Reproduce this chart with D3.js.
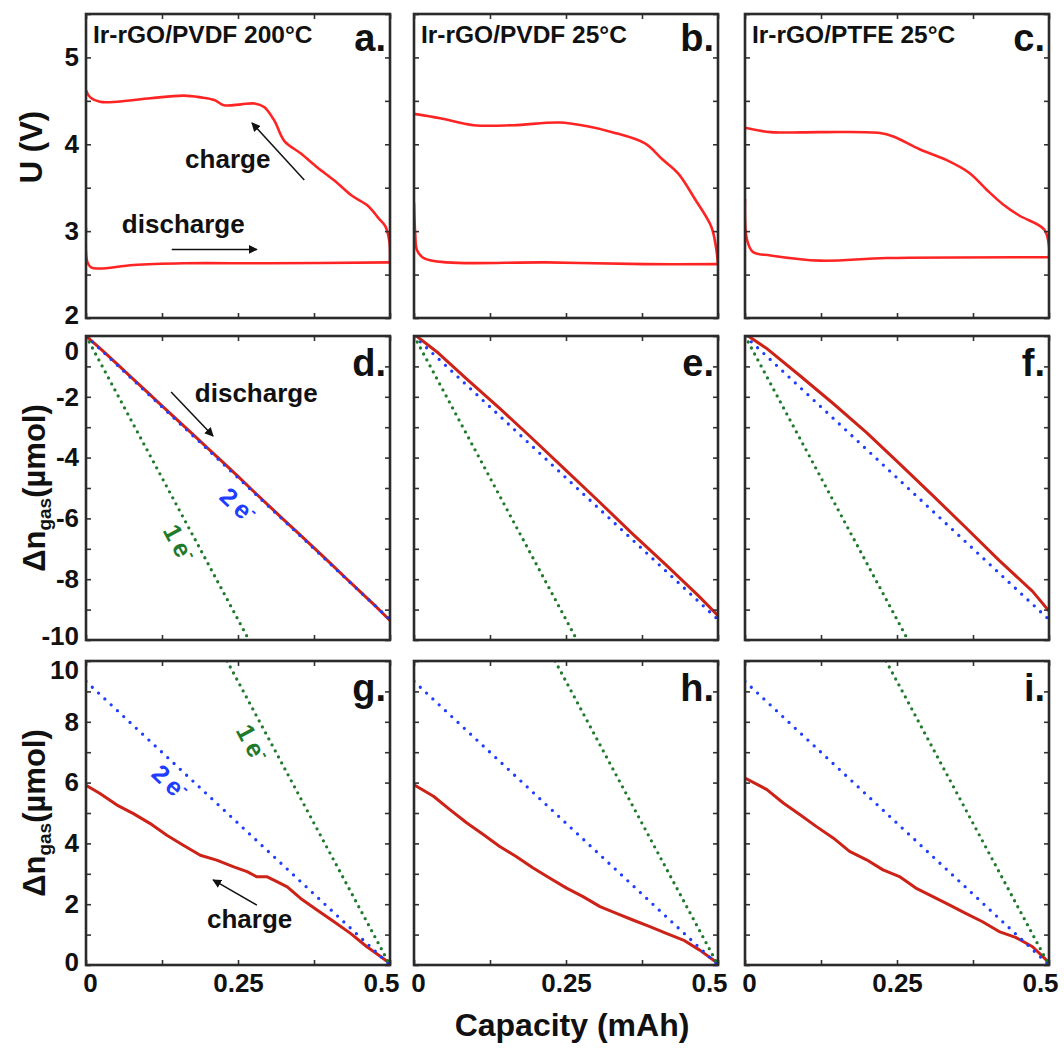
<!DOCTYPE html>
<html>
<head>
<meta charset="utf-8">
<script src="https://cdn.jsdelivr.net/npm/d3@7"></script>
<style>
body { margin: 0; background: #fff; }
text { font-family: "Liberation Sans", Arial, sans-serif; font-weight: bold; }
</style>
</head>
<body>
<script>
// ---- data (capacity in mAh, U in V, delta n in umol) ----
var capTicks = [0, 0.125, 0.25, 0.375, 0.5];
var capLabels = [0, 0.25, 0.5];
var uTicks = [2, 2.5, 3, 3.5, 4, 4.5, 5, 5.5];
var uLabels = [2, 3, 4, 5];
var dnDisTicks = [-10, -9, -8, -7, -6, -5, -4, -3, -2, -1, 0];
var dnDisLabels = [-10, -8, -6, -4, -2, 0];
var dnChTicks = [0, 1, 2, 3, 4, 5, 6, 7, 8, 9, 10];
var dnChLabels = [0, 2, 4, 6, 8, 10];

// panel a-c: voltage profiles
var aCharge = [[0,4.62],[0.007,4.54],[0.023,4.49],[0.051,4.49],[0.106,4.53],[0.161,4.56],[0.189,4.54],[0.211,4.51],[0.227,4.45],[0.255,4.46],[0.277,4.47],[0.293,4.43],[0.31,4.27],[0.326,4.04],[0.354,3.89],[0.381,3.73],[0.409,3.58],[0.437,3.41],[0.464,3.29],[0.481,3.15],[0.492,3.06],[0.499,2.88],[0.5,2.65]];
var aDischarge = [[0,3.04],[0.002,2.65],[0.009,2.58],[0.023,2.57],[0.078,2.61],[0.161,2.63],[0.299,2.63],[0.5,2.64]];
var bCharge = [[0,4.35],[0.043,4.3],[0.098,4.22],[0.163,4.22],[0.239,4.25],[0.283,4.21],[0.326,4.14],[0.38,4.01],[0.408,3.83],[0.435,3.66],[0.462,3.37],[0.489,3.05],[0.497,2.8],[0.5,2.62]];
var bDischarge = [[0,3.33],[0.002,2.97],[0.005,2.78],[0.016,2.69],[0.054,2.64],[0.217,2.64],[0.38,2.62],[0.5,2.62]];
var cCharge = [[0,4.19],[0.042,4.14],[0.124,4.14],[0.222,4.13],[0.244,4.09],[0.288,3.94],[0.331,3.82],[0.369,3.67],[0.397,3.48],[0.424,3.31],[0.451,3.18],[0.492,3.02],[0.5,2.83],[0.5,2.7]];
var cDischarge = [[0,3.37],[0.003,2.91],[0.013,2.76],[0.042,2.72],[0.124,2.66],[0.233,2.69],[0.5,2.7]];

// panel d-f: gas consumed on discharge
var dMeas = [[0,0],[0.025,-0.44],[0.05,-0.9],[0.075,-1.37],[0.1,-1.83],[0.125,-2.3],[0.15,-2.76],[0.175,-3.22],[0.2,-3.69],[0.225,-4.15],[0.25,-4.62],[0.275,-5.1],[0.3,-5.57],[0.325,-6.04],[0.35,-6.5],[0.375,-6.97],[0.4,-7.44],[0.425,-7.92],[0.45,-8.39],[0.475,-8.86],[0.5,-9.36]];
var eMeas = [[0.004,0],[0.04,-0.56],[0.086,-1.4],[0.141,-2.38],[0.195,-3.38],[0.25,-4.42],[0.305,-5.46],[0.359,-6.5],[0.414,-7.52],[0.468,-8.55],[0.5,-9.2]];
var fMeas = [[0.005,0],[0.035,-0.4],[0.09,-1.3],[0.145,-2.22],[0.2,-3.18],[0.254,-4.2],[0.309,-5.25],[0.363,-6.3],[0.418,-7.38],[0.473,-8.4],[0.5,-9.05]];

// panel g-i: gas evolved on charge
var gMeas = [[0,5.91],[0.023,5.64],[0.051,5.26],[0.078,4.98],[0.105,4.66],[0.133,4.27],[0.16,3.94],[0.188,3.61],[0.215,3.45],[0.243,3.23],[0.265,3.07],[0.281,2.9],[0.298,2.9],[0.314,2.74],[0.331,2.57],[0.353,2.19],[0.38,1.81],[0.408,1.42],[0.435,1.04],[0.462,0.6],[0.485,0.27],[0.5,0.05]];
var hMeas = [[0,5.93],[0.032,5.55],[0.059,5.11],[0.087,4.67],[0.114,4.29],[0.141,3.9],[0.168,3.57],[0.196,3.19],[0.223,2.86],[0.251,2.53],[0.278,2.25],[0.306,1.92],[0.333,1.7],[0.36,1.48],[0.388,1.26],[0.415,1.04],[0.443,0.82],[0.47,0.49],[0.5,0.05]];
var iMeas = [[0,6.15],[0.036,5.77],[0.063,5.33],[0.09,4.95],[0.117,4.56],[0.145,4.18],[0.172,3.74],[0.2,3.46],[0.227,3.13],[0.243,3.0],[0.254,2.91],[0.281,2.53],[0.309,2.25],[0.336,1.98],[0.363,1.7],[0.39,1.43],[0.418,1.1],[0.445,0.91],[0.473,0.6],[0.5,0.08]];

// theoretical 1e- / 2e- lines
var dis2e = [[0,0],[0.5,-9.33]];
var dis1e = [[0,0],[0.268,-10]];
var ch2e = [[0,9.33],[0.5,0]];
var ch1e = [[0.232,10],[0.5,0]];

var titles = ["Ir-rGO/PVDF 200°C", "Ir-rGO/PVDF 25°C", "Ir-rGO/PTFE 25°C"];
var letters = ["a.", "b.", "c.", "d.", "e.", "f.", "g.", "h.", "i."];

var svg = d3.select("body").append("svg")
            .attr("width", 1064)
            .attr("height", 1048);

var colLeft = [86, 414, 745];
var rowTop = [14, 336, 661];
var pw = 304, ph = 304;
var RED1 = "#ff2424", RED2 = "#cc2218", BLUE = "#1f3dff", GREEN = "#1f7a2c";

var rows = [
  { domain: [2, 5.5], ticks: uTicks, labels: uLabels, topNudge: 0, botNudge: -3 },
  { domain: [-10, 0], ticks: dnDisTicks, labels: dnDisLabels, topNudge: 15, botNudge: -4 },
  { domain: [0, 10], ticks: dnChTicks, labels: dnChLabels, topNudge: 9, botNudge: -3 }
];

var panels = [
  { r: 0, c: 0, meas: [aCharge, aDischarge] },
  { r: 0, c: 1, meas: [bCharge, bDischarge] },
  { r: 0, c: 2, meas: [cCharge, cDischarge] },
  { r: 1, c: 0, meas: [dMeas], theo: [dis2e, dis1e] },
  { r: 1, c: 1, meas: [eMeas], theo: [dis2e, dis1e] },
  { r: 1, c: 2, meas: [fMeas], theo: [dis2e, dis1e] },
  { r: 2, c: 0, meas: [gMeas], theo: [ch2e, ch1e] },
  { r: 2, c: 1, meas: [hMeas], theo: [ch2e, ch1e] },
  { r: 2, c: 2, meas: [iMeas], theo: [ch2e, ch1e] }
];

var defs = svg.append("defs");
defs.append("marker")
    .attr("id", "arr")
    .attr("viewBox", "0 0 10 10")
    .attr("refX", 9).attr("refY", 5)
    .attr("markerWidth", 9).attr("markerHeight", 9)
    .attr("markerUnits", "userSpaceOnUse")
    .attr("orient", "auto")
  .append("path")
    .attr("d", "M0,0 L10,5 L0,10 z")
    .attr("fill", "#111");

var scales = [];

panels.forEach(function (p, i) {
  var row = rows[p.r];
  var g = svg.append("g")
             .attr("transform", "translate(" + colLeft[p.c] + "," + rowTop[p.r] + ")");
  var x = d3.scaleLinear().domain([0, 0.5]).range([0, pw]);
  var y = d3.scaleLinear().domain(row.domain).range([ph, 0]);
  scales.push({ g: g, x: x, y: y });

  defs.append("clipPath").attr("id", "clip" + i)
      .append("rect").attr("width", pw).attr("height", ph);

  var line = d3.line().x(function (d) { return x(d[0]); }).y(function (d) { return y(d[1]); });
  var plot = g.append("g").attr("clip-path", "url(#clip" + i + ")");

  // measured curves
  p.meas.forEach(function (m) {
    plot.append("path")
        .attr("d", line.curve(p.r === 0 ? d3.curveCatmullRom.alpha(0.5) : d3.curveLinear)(m))
        .attr("fill", "none")
        .attr("stroke", p.r === 0 ? RED1 : RED2)
        .attr("stroke-width", p.r === 0 ? 2.6 : 3)
        .attr("stroke-linejoin", "round");
  });

  // theoretical lines (dotted)
  if (p.theo) {
    line.curve(d3.curveLinear);
    plot.append("path").attr("d", line(p.theo[0]))
        .attr("fill", "none").attr("stroke", BLUE).attr("stroke-width", 3.3)
        .attr("stroke-linecap", "round").attr("stroke-dasharray", "0,8.6");
    plot.append("path").attr("d", line(p.theo[1]))
        .attr("fill", "none").attr("stroke", GREEN).attr("stroke-width", 3.3)
        .attr("stroke-linecap", "round").attr("stroke-dasharray", "0,6.8");
  }

  // axes with inward ticks
  var left = g.append("g").call(d3.axisLeft(y).tickValues(row.ticks).tickSize(-5).tickPadding(7)
      .tickFormat(function (d) { return p.c === 0 && row.labels.indexOf(d) >= 0 ? String(d) : ""; }));
  left.selectAll("text").attr("y", function (d) {
    if (d === row.domain[1]) return row.topNudge;
    if (d === row.domain[0]) return row.botNudge;
    return 0;
  });
  g.append("g").attr("transform", "translate(" + pw + ",0)")
   .call(d3.axisRight(y).tickValues(row.ticks).tickSize(-5).tickFormat(""));
  g.append("g").call(d3.axisTop(x).tickValues(capTicks).tickSize(-5).tickFormat(""));
  var bottom = g.append("g").attr("transform", "translate(0," + ph + ")")
   .call(d3.axisBottom(x).tickValues(capTicks).tickSize(-5).tickPadding(9)
      .tickFormat(function (d) { return p.r === 2 && capLabels.indexOf(d) >= 0 ? String(d) : ""; }));
  bottom.selectAll("text").attr("x", function (d) { return d === 0 ? 4 : (d === 0.5 ? -9 : 0); });

  g.selectAll(".domain").remove();
  g.selectAll(".tick line").attr("stroke", "#333").attr("stroke-width", 1.6);
  g.selectAll(".tick text").attr("fill", "#111").style("font-size", "26px");

  // frame
  g.append("rect").attr("width", pw).attr("height", ph)
   .attr("fill", "none").attr("stroke", "#2b2b2b").attr("stroke-width", 2.6);

  if (p.r === 0) {
    g.append("text").attr("x", 7).attr("y", 29)
     .style("font-size", "24.5px").attr("fill", "#111").text(titles[p.c]);
  }
  g.append("text").attr("x", pw - 4).attr("y", p.r === 0 ? 37 : 40)
   .attr("text-anchor", "end").style("font-size", "38px").attr("fill", "#111")
   .text(letters[i]);
});

// ---- annotations ----
function arrow(s, x0, y0, x1, y1) {
  s.g.append("line")
     .attr("x1", s.x(x0)).attr("y1", s.y(y0))
     .attr("x2", s.x(x1)).attr("y2", s.y(y1))
     .attr("stroke", "#111").attr("stroke-width", 1.5)
     .attr("marker-end", "url(#arr)");
}
function word(s, cx, cy, txt) {
  s.g.append("text").attr("x", s.x(cx)).attr("y", s.y(cy))
     .style("font-size", "26px").attr("fill", "#111").text(txt);
}
function eLabel(s, cx, cy, angle, n, color) {
  var t = s.g.append("text")
     .attr("transform", "translate(" + s.x(cx) + "," + s.y(cy) + ") rotate(" + angle + ")")
     .attr("text-anchor", "middle").attr("dy", "0.35em")
     .attr("fill", color).style("font-size", "25px");
  t.append("tspan").text(n);
  t.append("tspan").attr("dx", 5).text("e");
  t.append("tspan").attr("dy", -10).style("font-size", "16px").text("-");
}

var sa = scales[0], sd = scales[3], sg = scales[6];
word(sa, 0.163, 3.73, "charge");
arrow(sa, 0.359, 3.59, 0.273, 4.245);
word(sa, 0.059, 2.98, "discharge");
arrow(sa, 0.141, 2.79, 0.281, 2.79);

word(sd, 0.179, -2.17, "discharge");
arrow(sd, 0.14, -1.84, 0.209, -3.29);
eLabel(sd, 0.25, -5.56, 43, "2", BLUE);
eLabel(sd, 0.153, -6.81, 62, "1", GREEN);

eLabel(sg, 0.138, 6.02, 43, "2", BLUE);
eLabel(sg, 0.273, 7.3, 62, "1", GREEN);
word(sg, 0.199, 1.22, "charge");
arrow(sg, 0.281, 1.97, 0.209, 2.8);

// ---- axis titles ----
svg.append("text")
   .attr("transform", "translate(42,147) rotate(-90)")
   .attr("text-anchor", "middle").style("font-size", "31px").attr("fill", "#111")
   .text("U (V)");

[1, 2].forEach(function (r) {
  var t = svg.append("text")
     .attr("transform", "translate(45," + (rowTop[r] + ph / 2) + ") rotate(-90)")
     .attr("text-anchor", "middle").style("font-size", "31px").attr("fill", "#111");
  t.append("tspan").text("Δn");
  t.append("tspan").attr("dy", 6).style("font-size", "19px").text("gas");
  t.append("tspan").attr("dy", -6).text("(µmol)");
});

svg.append("text")
   .attr("x", 572).attr("y", 1036)
   .attr("text-anchor", "middle").style("font-size", "32px").attr("fill", "#111")
   .text("Capacity (mAh)");
</script>
</body>
</html>
